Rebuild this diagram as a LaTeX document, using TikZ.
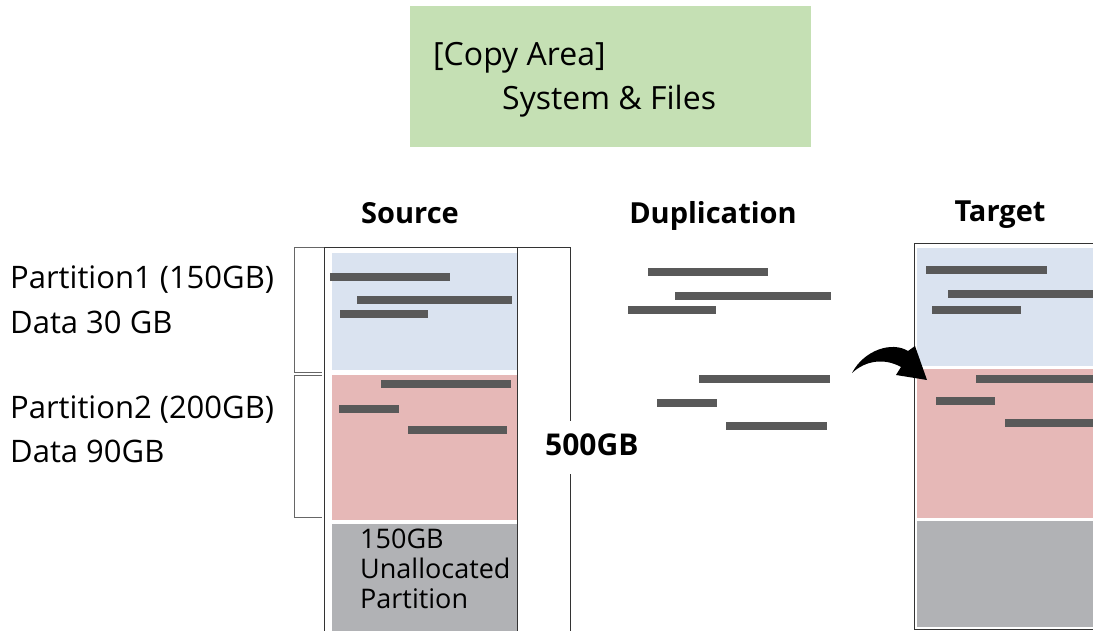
\documentclass[tikz,border=0pt]{standalone}
\usepackage{fontspec}
\setmainfont{Open Sans}
\begin{document}
\begin{tikzpicture}[x=1pt,y=-1pt,
  lbl/.style={anchor=base west,inner sep=0pt,font=\fontsize{31}{34}\selectfont},
  glbl/.style={anchor=base west,inner sep=0pt,font=\fontsize{32}{36}\selectfont},
  ulbl/.style={anchor=base west,inner sep=0pt,font=\fontsize{27}{30}\selectfont},
  hdr/.style={anchor=base,inner sep=0pt,font=\fontsize{29}{32}\selectfont\bfseries},
  bar/.style={fill=barc,draw=none},
  brk/.style={draw=gray!80!black,line width=1pt},
  box/.style={draw=black!80,line width=1pt}]
\definecolor{greenc}{HTML}{C5E0B4}
\definecolor{bluec}{HTML}{DAE3F0}
\definecolor{redc}{HTML}{E6B8B7}
\definecolor{grayc}{HTML}{B1B2B5}
\definecolor{barc}{HTML}{595959}
\useasboundingbox (0,0) rectangle (1093,631);
% copy area
\fill[greenc] (410,6) rectangle (811,147);
\node[glbl] (copy) at (433,66) {[Copy Area]};
\node[glbl] (sys) at (502,110) {System \& Files};
% headers
\node[hdr] (src) at (410,224) {Source};
\node[hdr] (dup) at (713,224) {Duplication};
\node[hdr] (tgt) at (1000,222) {Target};
% source column
\fill[bluec] (332,253) rectangle (517,370);
\fill[redc] (332,375) rectangle (517,520);
\fill[grayc] (332,524) rectangle (517,632);
\draw[box] (324,640) -- (324,248) -- (517,248) -- (517,640);
% left brackets
\draw[brk] (324,248) -- (294,248) -- (294,372) -- (322,372);
\draw[brk] (322,375) -- (294,375) -- (294,517) -- (322,517);
% 500GB bracket
\node[anchor=base west,inner sep=0pt,font=\fontsize{30}{32}\selectfont\bfseries] (size) at (545,455) {500GB};
\coordinate (bt) at (570,248);
\draw[box] (517,248) -- (bt) -- (570,421);
\draw[box] (570,474) -- (570,640);
% source bars
\fill[bar] (330,273) rectangle (450,281);
\fill[bar] (357,296) rectangle (512,304);
\fill[bar] (340,310) rectangle (428,318);
\fill[bar] (381,380) rectangle (511,388);
\fill[bar] (339,405) rectangle (399,413);
\fill[bar] (408,426) rectangle (507,434);
% source gray label
\node[ulbl] (u1) at (360,548) {150GB};
\node[ulbl] (u2) at (360,578) {Unallocated};
\node[ulbl] (u3) at (360,608) {Partition};
% duplication bars
\fill[bar] (648,268) rectangle (768,276);
\fill[bar] (675,292) rectangle (831,300);
\fill[bar] (628,306) rectangle (716,314);
\fill[bar] (699,375) rectangle (830,383);
\fill[bar] (657,399) rectangle (717,407);
\fill[bar] (726,422) rectangle (827,430);
% target column
\fill[bluec] (917,248) rectangle (1100,366);
\fill[redc] (917,369) rectangle (1100,518);
\fill[grayc] (917,521) rectangle (1100,627);
\draw[box] (1100,244) -- (914,244) -- (914,629) -- (1100,629);
\fill[bar] (926,266) rectangle (1047,274);
\fill[bar] (948,290) rectangle (1100,298);
\fill[bar] (932,306) rectangle (1021,314);
\fill[bar] (976,375) rectangle (1100,383);
\fill[bar] (936,397) rectangle (995,405);
\fill[bar] (1005,419) rectangle (1100,427);
% left labels
\node[lbl] (p1) at (10,288) {Partition1 (150GB)};
\node[lbl] (d1) at (10,333) {Data 30 GB};
\node[lbl] (p2) at (10,418) {Partition2 (200GB)};
\node[lbl] (d2) at (10,462) {Data 90GB};
% curved arrow
\fill[black] (852,373) .. controls (864,350) and (892,341) .. (908,351)
  -- (915,346) -- (927,380) -- (896,375) -- (901,367)
  .. controls (885,358) and (866,360) .. (852,373) -- cycle;
\end{tikzpicture}
\end{document}
